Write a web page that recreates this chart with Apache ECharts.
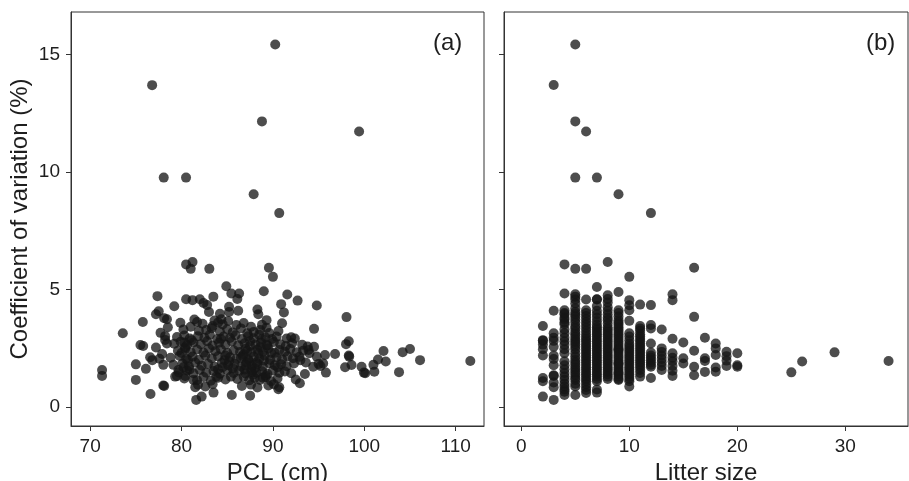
<!DOCTYPE html>
<html><head><meta charset="utf-8">
<script src="https://cdn.jsdelivr.net/npm/echarts@6/dist/echarts.min.js"></script>
<style>html,body{margin:0;padding:0;background:#fff}#c{width:909px;height:481px}</style>
</head><body><div id="c"></div>
<script>
// Panel (a): PCL (cm) vs coefficient of variation (%)
const pclPoints = [
[90.25,15.42],[76.78,13.69],[88.8,12.15],[99.43,11.72],[78.05,9.76],[80.49,9.76],[87.89,9.05],[90.69,8.25],
[80.5,6.07],[81.2,6.17],[81.0,5.88],[83.04,5.88],[89.56,5.93],[90.0,5.54],[84.9,5.14],[89.0,4.93],
[85.45,4.83],[86.3,4.83],[86.1,4.6],[77.36,4.72],[83.48,4.7],[91.57,4.79],[92.7,4.53],
[80.5,4.59],[81.2,4.55],[82.0,4.59],[82.4,4.43],[82.8,4.34],[83.0,4.05],[94.8,4.32],[90.9,4.38],[79.2,4.29],
[77.5,4.08],[77.2,3.95],[85.2,4.27],[85.2,4.05],[86.2,4.1],[88.3,4.15],[88.4,3.95],[91.2,4.03],[98.05,3.83],
[84.2,3.97],[84.35,3.74],[78.4,3.74],[78.1,3.78],[75.76,3.62],[79.87,3.59],[89.3,3.7],[91.0,3.57],[94.5,3.33],
[73.57,3.14],[77.7,3.16],[81.4,3.73],[83.4,3.45],[78.5,3.4],
[75.5,2.64],[75.8,2.6],[77.2,2.54],[78.2,2.86],[78.4,2.71],[78.2,3.02],
[76.56,2.12],[76.8,2.0],[77.58,2.06],[77.87,2.26],[78.0,1.8],[75.0,1.82],[76.1,1.63],[75.0,1.16],[78.0,0.92],[78.1,0.9],[76.6,0.56],
[71.3,1.58],[71.3,1.33],
[79.1,1.8],[79.3,1.3],[79.65,1.58],[80.4,1.33],[79.5,1.33],
[81.3,1.16],[81.5,0.85],[81.6,0.31],[82.2,0.45],[83.5,0.62],[85.5,0.52],[87.5,0.49],[90.6,0.76],[90.7,0.85],
[92.95,1.02],[93.5,1.41],[95.8,1.47],[96.8,2.26],[97.9,1.7],[98.0,2.68],[98.3,2.8],[98.3,2.2],[98.35,2.15],[98.6,1.79],
[99.7,1.72],[99.96,1.47],[100.1,1.44],[101.0,1.8],[101.1,1.51],[101.5,2.03],[102.1,2.39],[102.35,1.94],[103.8,1.49],[104.2,2.34],[105.0,2.47],[106.1,2.0],[111.6,1.96],
[94.5,2.57],[94.8,2.15],[95.5,1.86],[93.9,2.43],[94.0,2.29],[95.7,2.22],[94.4,1.72],[95.0,1.84],[95.2,1.75],[93.0,2.0],[93.6,1.9],
[81.7,3.62],[82.3,3.55],[83.6,3.68],[84.0,3.6],[84.5,3.52],[85.1,3.66],[86.0,3.49],[86.8,3.58],[87.6,3.42],[88.8,3.5],[89.3,3.38],
[80.2,3.3],[81.0,3.42],[81.9,3.25],[82.7,3.28],[83.3,3.36],[84.2,3.22],[85.0,3.31],[85.6,3.18],[86.5,3.35],[87.2,3.14],[87.9,3.2],[88.6,3.28],[89.6,3.15],[90.6,3.24],
[79.5,2.98],[80.3,3.05],[80.9,2.92],[81.8,3.02],[82.5,2.95],[83.1,3.08],[83.9,2.9],[84.6,3.0],[85.3,2.94],[85.9,3.06],[86.6,2.9],[87.3,3.02],[87.9,2.93],[88.5,3.08],[89.2,2.96],[89.9,2.9],[90.4,3.0],[91.5,2.92],[92.0,2.97],[92.4,2.92],
[79.2,2.7],[79.9,2.78],[80.6,2.64],[81.3,2.75],[82.1,2.68],[82.8,2.8],[83.4,2.62],[84.1,2.74],[84.8,2.66],[85.5,2.79],[86.2,2.63],[86.9,2.72],[87.5,2.8],[88.1,2.66],[88.7,2.74],[89.4,2.62],[90.1,2.77],[90.8,2.68],[91.4,2.6],[92.1,2.72],[93.2,2.65],[93.8,2.58],
[79.6,2.4],[80.4,2.48],[81.0,2.34],[81.7,2.45],[82.4,2.32],[83.0,2.5],[83.7,2.38],[84.3,2.46],[85.0,2.3],[85.7,2.42],[86.4,2.35],[87.0,2.48],[87.6,2.33],[88.3,2.44],[88.9,2.36],[89.5,2.5],[90.2,2.31],[90.7,2.43],[91.3,2.36],[91.9,2.47],[92.6,2.34],[93.3,2.4],
[78.8,2.1],[79.8,2.18],[80.5,2.05],[81.2,2.15],[81.9,2.02],[82.6,2.2],[83.3,2.08],[84.0,2.16],[84.7,2.0],[85.3,2.12],[86.0,2.05],[86.7,2.18],[87.3,2.03],[87.9,2.14],[88.5,2.06],[89.1,2.2],[89.7,2.01],[90.4,2.12],[91.0,2.04],[91.6,2.16],[92.2,2.08],[92.9,2.14],
[80.1,1.86],[80.8,1.74],[81.5,1.9],[82.2,1.76],[82.9,1.84],[83.6,1.72],[84.4,1.88],[85.1,1.78],[85.8,1.85],[86.5,1.73],[87.1,1.9],[87.7,1.76],[88.3,1.84],[88.9,1.72],[89.6,1.87],[90.2,1.78],[90.9,1.83],[91.5,1.74],[92.3,1.86],
[79.7,1.48],[80.6,1.56],[81.3,1.44],[82.0,1.58],[82.7,1.46],[83.5,1.54],[84.2,1.42],[85.0,1.57],[85.7,1.45],[86.3,1.55],[87.0,1.43],[87.6,1.58],[88.2,1.47],[88.8,1.53],[89.4,1.41],[90.0,1.56],[90.7,1.46],[91.3,1.52],[92.0,1.44],
[80.3,1.22],[81.7,1.15],[82.4,1.28],[83.2,1.12],[84.0,1.25],[84.8,1.18],[86.1,1.2],[86.8,1.3],[87.4,1.14],[88.0,1.24],[88.6,1.16],[89.2,1.28],[89.8,1.1],[90.5,1.22],[92.5,1.18],
[81.8,0.95],[82.6,0.88],[83.4,0.98],[86.6,0.9],[87.6,0.96],[88.3,0.84],[89.5,0.92],[90.1,0.98],
[86.8,2.25],[87.4,1.95],[88.0,1.65],[88.6,2.55],[89.2,1.35],[87.8,1.38],[88.4,2.28],[89.0,1.98],[86.9,1.6],[87.5,2.6],[88.8,2.9],[87.2,2.4],[89.8,2.3],[88.2,1.9],[87.0,1.8],[86.5,2.1],[90.5,1.7],[89.3,2.65],[87.7,1.5],[88.9,1.25],
[80.2,1.7],[80.7,2.0],[80.0,2.3],[80.9,1.6],[80.4,2.55],[81.1,2.85],[80.3,2.75],
[84.5,1.7],[85.2,1.95],[84.8,2.2],[84.0,1.6],[85.4,1.3],[84.3,2.9],[85.6,1.65],[83.8,1.3]
];

// Panel (b): litter size vs coefficient of variation (%)
const litterSizes = [2,3,4,5,6,7,8,9,10,11,12,13,14,15,16,17,18,19,20,25,26,29,34];
const litterCV = [
[3.45,2.85,2.82,2.66,2.46,2.2,1.24,1.10,0.45],
[13.7,4.1,3.14,2.95,2.82,2.57,2.2,2.05,1.78,1.36,1.33,1.05,0.85,0.31],
[6.07,4.83,4.12,4.0,3.95,3.8,3.73,3.6,3.53,3.3,3.14,2.95,2.8,2.65,2.46,2.29,1.95,1.78,1.61,1.45,1.3,1.16,1.0,0.88,0.75,0.66,0.52],
[15.42,12.15,9.76,5.88,4.8,4.7,4.58,4.41,4.2,4.05,3.95,3.85,3.73,3.6,3.45,3.35,3.21,3.1,2.99,2.88,2.78,2.68,2.57,2.45,2.29,2.15,2.01,1.9,1.79,1.68,1.58,1.47,1.37,1.25,1.16,1.0,0.88,0.52],
[11.72,5.88,4.58,4.12,4.0,3.88,3.75,3.62,3.5,3.38,3.25,3.12,3.0,2.9,2.8,2.7,2.6,2.5,2.4,2.3,2.2,2.1,2.0,1.9,1.8,1.7,1.6,1.5,1.4,1.3,1.2,1.1,0.98,0.85,0.73,0.6],
[9.76,5.11,4.59,4.58,4.3,4.1,3.95,3.8,3.65,3.5,3.4,3.3,3.2,3.1,3.0,2.9,2.8,2.7,2.6,2.5,2.4,2.3,2.2,2.1,2.0,1.9,1.8,1.7,1.6,1.5,1.4,1.3,1.2,1.1,0.75,0.62],
[6.17,4.76,4.6,4.45,4.25,4.1,3.95,3.8,3.7,3.55,3.4,3.3,3.2,3.1,3.0,2.9,2.8,2.7,2.6,2.5,2.4,2.3,2.2,2.1,2.0,1.9,1.8,1.7,1.6,1.5,1.4,1.3,1.2],
[9.05,4.9,4.12,4.0,3.85,3.7,3.6,3.5,3.4,3.3,3.2,3.1,3.0,2.9,2.8,2.7,2.6,2.5,2.45,2.4,2.3,2.2,2.1,2.0,1.9,1.85,1.8,1.7,1.6,1.5,1.45,1.4,1.3,1.2,1.16],
[5.54,4.55,4.33,4.12,3.67,3.14,3.0,2.85,2.7,2.6,2.5,2.4,2.3,2.2,2.1,2.0,1.9,1.8,1.7,1.6,1.5,1.4,1.3,1.2,1.1,0.88],
[4.36,3.45,3.35,3.25,3.1,3.0,2.9,2.8,2.7,2.6,2.5,2.4,2.3,2.2,2.1,2.0,1.9,1.8,1.7,1.58,1.45,1.3],
[8.25,4.34,3.49,3.35,2.71,2.32,2.2,2.1,2.0,1.9,1.8,1.72,1.24],
[3.3,2.5,2.35,2.2,2.05,1.9,1.75,1.58],
[4.8,4.55,2.91,2.29,2.1,1.95,1.75,1.55,1.33],
[2.75,2.08,1.86],
[5.93,3.84,2.4,1.72,1.36],
[2.95,2.08,1.96,1.5],
[2.71,2.5,2.22,1.69,1.51],
[2.36,2.17,1.98,1.75],
[2.29,1.78,1.72],
[1.48],[1.94],[2.33],[1.96]
];

const cvTicks = [0,5,10,15];
const pclTicks = [70,80,90,100,110];
const litterTicks = [0,10,20,30];

const litterPoints = [];
litterSizes.forEach((s,i)=>litterCV[i].forEach(v=>litterPoints.push([s,v])));

const axisColor = '#333';
const textColor = '#1e1e1e';
const font = 'Arial, "Liberation Sans", Helvetica, sans-serif';

function xAx(grid, min, max, ticks, name){
  return {
    type:'value', gridIndex:grid, min:min, max:max,
    name:name, nameLocation:'middle', nameGap:29,
    nameTextStyle:{fontSize:24, color:textColor, fontFamily:font},
    axisLine:{show:true, onZero:false, lineStyle:{color:axisColor, width:1}},
    axisTick:{show:true, inside:false, length:5, customValues:ticks, lineStyle:{color:axisColor}},
    axisLabel:{show:true, customValues:ticks, fontSize:19, color:textColor, fontFamily:font, margin:11},
    splitLine:{show:false}
  };
}
function yAx(grid, showLabels, name){
  return {
    type:'value', gridIndex:grid, min:-0.8, max:16.8,
    name:name, nameLocation:'middle', nameGap:39, nameRotate:90,
    nameTextStyle:{fontSize:24, color:textColor, fontFamily:font},
    axisLine:{show:true, onZero:false, lineStyle:{color:axisColor, width:1}},
    axisTick:{show:true, inside:false, length:5, customValues:cvTicks, lineStyle:{color:axisColor}},
    axisLabel:{show:showLabels, customValues:cvTicks, fontSize:19, color:textColor, fontFamily:font, margin:11},
    splitLine:{show:false}
  };
}

const chart = echarts.init(document.getElementById('c'), null, {renderer:'canvas'});
chart.setOption({
  animation:false,
  backgroundColor:'#fff',
  grid:[
    {left:71, top:12, width:413, height:414, show:true, borderColor:axisColor, borderWidth:1, containLabel:false, outerBoundsMode:'none'},
    {left:504, top:12, width:404, height:414, show:true, borderColor:axisColor, borderWidth:1, containLabel:false, outerBoundsMode:'none'}
  ],
  xAxis:[ xAx(0, 67.9, 113.1, pclTicks, 'PCL (cm)'), xAx(1, -1.6, 35.8, litterTicks, 'Litter size') ],
  yAxis:[ yAx(0, true, 'Coefficient of variation (%)'), yAx(1, false, '') ],
  series:[
    {type:'scatter', xAxisIndex:0, yAxisIndex:0, data:pclPoints, symbolSize:10,
     itemStyle:{color:'#151515', opacity:0.76}},
    {type:'scatter', xAxisIndex:1, yAxisIndex:1, data:litterPoints, symbolSize:10,
     itemStyle:{color:'#151515', opacity:0.76}}
  ],
  graphic:[
    {type:'text', left:433, top:31, style:{text:'(a)', font:'24px '+font, fill:textColor}},
    {type:'text', left:866, top:31, style:{text:'(b)', font:'24px '+font, fill:textColor}}
  ]
});
</script></body></html>
